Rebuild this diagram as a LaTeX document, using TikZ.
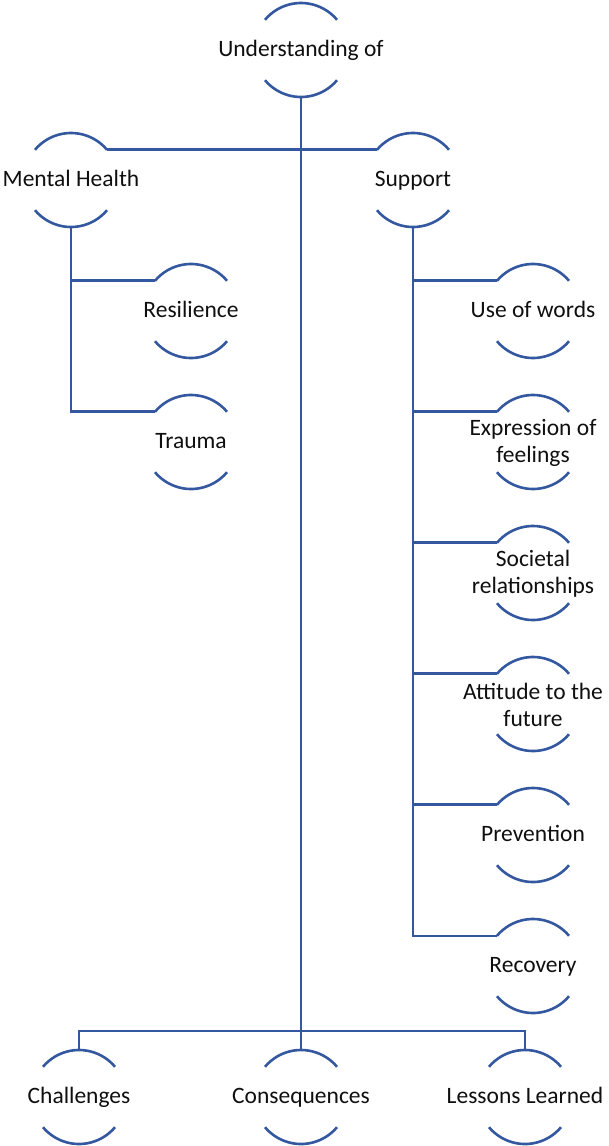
\documentclass[tikz,border=0pt]{standalone}
\usepackage{fontspec}
\setmainfont{Carlito}
\definecolor{BranchColor}{RGB}{52,88,160}
\definecolor{TextColor}{RGB}{15,15,15}
\tikzset{
	topic/.style={circle, minimum size=94pt, inner sep=0pt, outer sep=0pt},
	topic lines/.style={align=center, text=TextColor, font=\fontsize{23.5}{27}\selectfont, inner sep=0pt, yshift=-1pt},
	topic label/.style={topic lines, yshift=1pt, text height=18pt, text depth=5pt},
	cup/.style={draw=BranchColor, line width=2.6pt},
	branch/.style={draw=BranchColor, line width=2.6pt}
}
\begin{document}
\begin{tikzpicture}[x=1pt, y=-1pt]
	\useasboundingbox (0,0) rectangle (608,1146);
	\node [topic, label={[topic label]center:Understanding of}] (under) at (301,50) {};
	\node [topic, label={[topic label]center:Mental Health}] (mental) at (71,180) {};
	\node [topic, label={[topic label]center:Support}] (support) at (413,180) {};
	\node [topic, label={[topic label]center:Resilience}] (resil) at (191,311) {};
	\node [topic, label={[topic label]center:Trauma}] (trauma) at (191,442) {};
	\node [topic, label={[topic label]center:Use of words}] (words) at (533,311) {};
	\node [topic, label={[topic lines]center:{Expression of\\feelings}}] (express) at (533,442) {};
	\node [topic, label={[topic lines]center:{Societal\\relationships}}] (societal) at (533,573) {};
	\node [topic, label={[topic lines]center:{Attitude to the\\future}}] (attitude) at (533,704) {};
	\node [topic, label={[topic label]center:Prevention}] (prevent) at (533,835) {};
	\node [topic, label={[topic label]center:Recovery}] (recover) at (533,966) {};
	\node [topic, label={[topic label]center:Challenges}] (challenge) at (79,1097) {};
	\node [topic, label={[topic label]center:Consequences}] (conseq) at (301,1097) {};
	\node [topic, label={[topic label]center:Lessons Learned}] (lessons) at (525,1097) {};
	\coordinate (bus) at (301,1031);

	% arcs above and below each topic
	\foreach \n in {under,mental,support,resil,trauma,words,express,societal,attitude,prevent,recover,challenge,conseq,lessons}
		\draw [cup] (\n.40) arc [start angle=40, end angle=140, radius=47pt]
			(\n.220) arc [start angle=220, end angle=320, radius=47pt];

	\draw [branch] (under.south) -- (conseq.north);
	\draw [branch] (mental.40) -- (support.140);
	\draw [branch] (mental.south) |- (resil.140);
	\draw [branch] (mental.south) |- (trauma.140);
	\foreach \n in {words,express,societal,attitude,prevent,recover}
		\draw [branch] (support.south) |- (\n.140);
	\draw [branch] (challenge.north) |- (bus) -| (lessons.north);
\end{tikzpicture}
\end{document}
